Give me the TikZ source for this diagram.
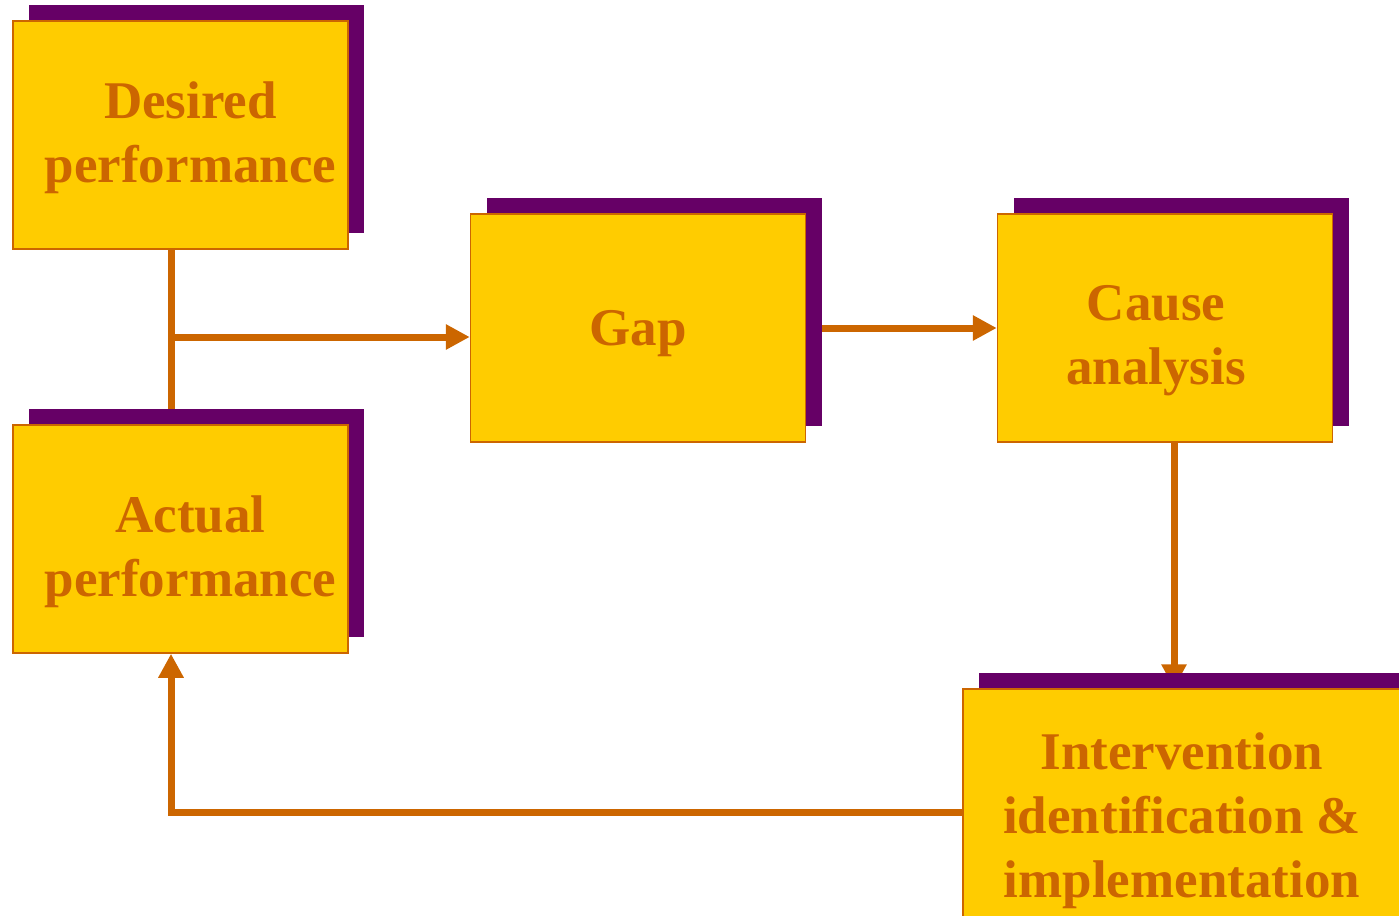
\documentclass[tikz,border=0pt]{standalone}
\usepackage{fontspec}
\setmainfont{Liberation Serif}
\usetikzlibrary{positioning,calc,arrows.meta,shadows,backgrounds}
\definecolor{boxfill}{HTML}{FFCC00}
\definecolor{boxline}{HTML}{CC6600}
\definecolor{shade}{HTML}{660066}
\tikzset{font=\bfseries\fontsize{53}{64}\selectfont}

\begin{document}
\begin{tikzpicture}[x=1pt,y=-1pt]
	\useasboundingbox (0,0) rectangle (1399,915);
	\clip (0,0) rectangle (1399,915);
	\begin{scope}
		\tikzstyle{every node}=[align=center, inner sep=0pt, text=boxline]
		\tikzstyle{blk}=[draw=boxline, line width=1.5pt, fill=boxfill, minimum width=335pt, minimum height=228pt, drop shadow={shadow xshift=16pt, shadow yshift=16pt, fill=shade, opacity=1}]
		\tikzstyle{wire}=[draw=boxline, line width=7pt]
		\tikzstyle{link}=[wire, -{Triangle[length=24pt,width=24pt]}]

		\node[blk] (desired) at (180.5,135) {};
		\node[blk] (actual) at (180.5,539) {};
		\node[blk] (gap) at (638,328) {};
		\node[blk] (cause) at (1165,328) {};
		\node[blk, minimum width=438pt] (interv) at (1182,803) {};

		% labels sit a little off the box centres
		\node (desiredtxt) at ([xshift=10pt,yshift=-3pt]desired) {Desired\\performance};
		\node (actualtxt) at ([xshift=10pt,yshift=-13pt]actual) {Actual\\performance};
		\node (gaptxt) at ([yshift=-6pt]gap) {Gap};
		\node (causetxt) at ([xshift=-9pt,yshift=-13pt]cause) {Cause\\analysis};
		\node (intervtxt) at ([yshift=-18pt]interv) {Intervention\\identification \&\\implementation};

		\coordinate (fork) at (171,337);
		\coordinate (back) at (171,812);

		\begin{scope}[on background layer]
			\draw[wire] (desired.south -| fork) -- (actual.north -| fork);
			\draw[link] (fork) -- (fork -| gap.west);
			\draw[link] (gap) -- (cause.west |- gap);
			\draw[link] ([xshift=9pt]cause.south) -- ([xshift=9pt]cause.south |- interv.north);
			\draw[link] (interv.west |- back) -- (back) -- (actual.south -| back);
		\end{scope}

	\end{scope}
\end{tikzpicture}
\end{document}
